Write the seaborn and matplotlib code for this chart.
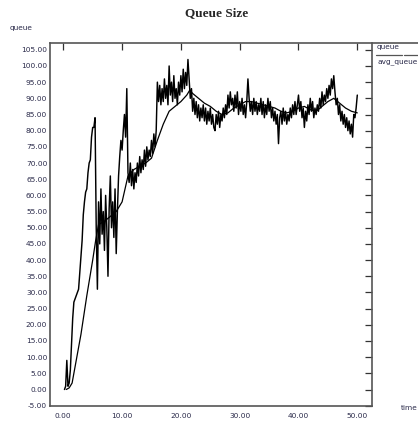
import numpy as np
import pandas as pd
import matplotlib
matplotlib.use("Agg")
import matplotlib.pyplot as plt
from matplotlib.lines import Line2D
import seaborn as sns

# Instantaneous queue length, sampled every 0.2 time units from t = 0.2 to 50.0
queue_time = [round(0.2 * k, 1) for k in range(1, 251)]
queue_size = [
    0, 1, 9, 1, 2,            # 0.2 - 1.0
    6, 14, 22, 27, 28,        # 1.2 - 2.0
    29, 30, 31, 36, 41,       # 2.2 - 3.0
    46, 54, 58, 61, 62,       # 3.2 - 4.0
    67, 70, 71, 78, 81,       # 4.2 - 5.0
    81, 84, 50, 31, 58,       # 5.2 - 6.0
    45, 62, 48, 55, 43,       # 6.2 - 7.0
    60, 50, 35, 56, 66,       # 7.2 - 8.0
    50, 58, 47, 62, 42,       # 8.2 - 9.0
    55, 66, 72, 77, 74,       # 9.2 - 10.0
    80, 85, 78, 93, 67,       # 10.2 - 11.0
    64, 70, 63, 68, 62,       # 11.2 - 12.0
    67, 64, 70, 66, 72,       # 12.2 - 13.0
    67, 71, 68, 74, 69,       # 13.2 - 14.0
    75, 71, 74, 72, 77,       # 14.2 - 15.0
    73, 79, 75, 80, 95,       # 15.2 - 16.0
    89, 94, 88, 93, 89,       # 16.2 - 17.0
    96, 90, 94, 88, 100,      # 17.2 - 18.0
    91, 95, 89, 97, 90,       # 18.2 - 19.0
    93, 88, 95, 91, 97,       # 19.2 - 20.0
    92, 99, 93, 98, 94,       # 20.2 - 21.0
    102, 96, 90, 93, 86,      # 21.2 - 22.0
    90, 85, 89, 84, 88,       # 22.2 - 23.0
    83, 87, 84, 88, 83,       # 23.2 - 24.0
    87, 82, 86, 83, 87,       # 24.2 - 25.0
    82, 85, 81, 80, 85,       # 25.2 - 26.0
    82, 86, 81, 85, 83,       # 26.2 - 27.0
    87, 84, 88, 85, 91,       # 27.2 - 28.0
    87, 92, 88, 90, 86,       # 28.2 - 29.0
    91, 87, 92, 85, 89,       # 29.2 - 30.0
    86, 90, 85, 88, 84,       # 30.2 - 31.0
    89, 96, 90, 86, 89,       # 31.2 - 32.0
    85, 90, 86, 89, 85,       # 32.2 - 33.0
    88, 86, 90, 85, 89,       # 33.2 - 34.0
    84, 88, 85, 90, 86,       # 34.2 - 35.0
    89, 84, 87, 83, 86,       # 35.2 - 36.0
    82, 85, 76, 84, 86,       # 36.2 - 37.0
    82, 87, 83, 86, 82,       # 37.2 - 38.0
    85, 83, 87, 84, 88,       # 38.2 - 39.0
    85, 89, 85, 88, 91,       # 39.2 - 40.0
    86, 89, 84, 87, 81,       # 40.2 - 41.0
    86, 83, 88, 85, 90,       # 41.2 - 42.0
    86, 89, 84, 87, 85,       # 42.2 - 43.0
    88, 86, 90, 87, 92,       # 43.2 - 44.0
    88, 91, 89, 93, 90,       # 44.2 - 45.0
    94, 91, 96, 93, 97,       # 45.2 - 46.0
    92, 88, 90, 85, 88,       # 46.2 - 47.0
    83, 86, 82, 85, 81,       # 47.2 - 48.0
    84, 80, 83, 79, 82,       # 48.2 - 49.0
    78, 85, 84, 87, 91,       # 49.2 - 50.0
]

# Running average of the queue length
avg_time = [0.5, 1, 1.5, 2, 3, 4, 5, 5.5, 6, 7, 8, 9, 10, 11, 12, 13, 14, 15,
            16, 17, 18, 19, 20, 21, 21.5, 22, 23, 24, 25, 26, 27, 28, 29, 30,
            31, 32, 33, 34, 35, 36, 37, 38, 39, 40, 41, 42, 43, 44, 45, 46,
            47, 48, 49, 50]
avg_queue = [0, 0.5, 2, 7, 17, 29, 40, 46, 51, 52, 53.5, 55, 58, 66, 68, 69,
             70, 71.5, 77, 82, 86, 87.5, 89, 91, 92.5, 91.5, 90, 88.5, 87.5,
             86, 85, 85.5, 87, 88, 89, 89, 88.5, 88, 87.5, 87, 86, 85.5, 86,
             87, 87.5, 86.5, 86, 87.5, 89, 90, 88.5, 87, 86, 85.5]

x_ticks = [0, 10, 20, 30, 40, 50]
y_ticks = list(range(-5, 110, 5))

queue_df = pd.DataFrame({"time": queue_time, "queue": queue_size})
avg_df = pd.DataFrame({"time": avg_time, "avg_queue": avg_queue})

sns.set_theme(style="white")
plt.rcParams["font.family"] = ["DejaVu Sans"]

W, H = 418, 425
fig = plt.figure(figsize=(W / 100, H / 100), dpi=100)
ax = fig.add_axes([50 / W, 1 - 406 / H, (372 - 50) / W, (406 - 43) / H])

sns.lineplot(data=queue_df, x="time", y="queue", ax=ax, color="black",
             linewidth=1.05, estimator=None, sort=False)
sns.lineplot(data=avg_df, x="time", y="avg_queue", ax=ax, color="black",
             linewidth=0.9, estimator=None, sort=False)

ax.set_xlim(-2.26, 52.5)
ax.set_ylim(-5.1, 107.1)
ax.set_xticks(x_ticks)
ax.set_xticklabels([f"{v:.2f}" for v in x_ticks])
ax.set_yticks(y_ticks)
ax.set_yticklabels([f"{v:.2f}" for v in y_ticks])
ax.set_xlabel("")
ax.set_ylabel("")

lab_color = "#2a2a4a"
ax.tick_params(axis="both", direction="in", length=5, width=0.9,
               color="#333333", top=True, right=True,
               labelsize=5.3, labelcolor=lab_color)
ax.tick_params(axis="x", pad=5)
ax.tick_params(axis="y", pad=2)
for s in ax.spines.values():
    s.set_visible(True)
    s.set_color("#555555")
    s.set_linewidth(1.2)

# Title and axis names
fig.text(217 / W, 1 - 13 / H, "Queue Size", ha="center", va="center",
         fontsize=9.5, fontweight="bold", family="Liberation Serif")
fig.text(10 / W, 1 - 28 / H, "queue", ha="left", va="center",
         fontsize=5.3, color=lab_color)
fig.text(401 / W, 1 - 408 / H, "time", ha="left", va="center",
         fontsize=5.3, color=lab_color)

# Series key to the right of the plot frame
fig.add_artist(Line2D([373 / W, 1.0], [1 - 42.7 / H] * 2, color="#555555",
                      linewidth=1.2, transform=fig.transFigure))
fig.text(377 / W, 1 - 47.5 / H, "queue", ha="left", va="center",
         fontsize=5.3, color=lab_color)
fig.add_artist(Line2D([376 / W, 402 / W], [1 - 54.5 / H] * 2,
                      color="#555555", linewidth=0.9,
                      transform=fig.transFigure))
fig.add_artist(Line2D([404 / W, 1.0], [1 - 54.5 / H] * 2,
                      color="#555555", linewidth=0.9,
                      transform=fig.transFigure))
fig.text(377 / W, 1 - 62 / H, "avg_queue", ha="left", va="center",
         fontsize=5.3, color=lab_color)

fig.savefig("out.png", dpi=100)
